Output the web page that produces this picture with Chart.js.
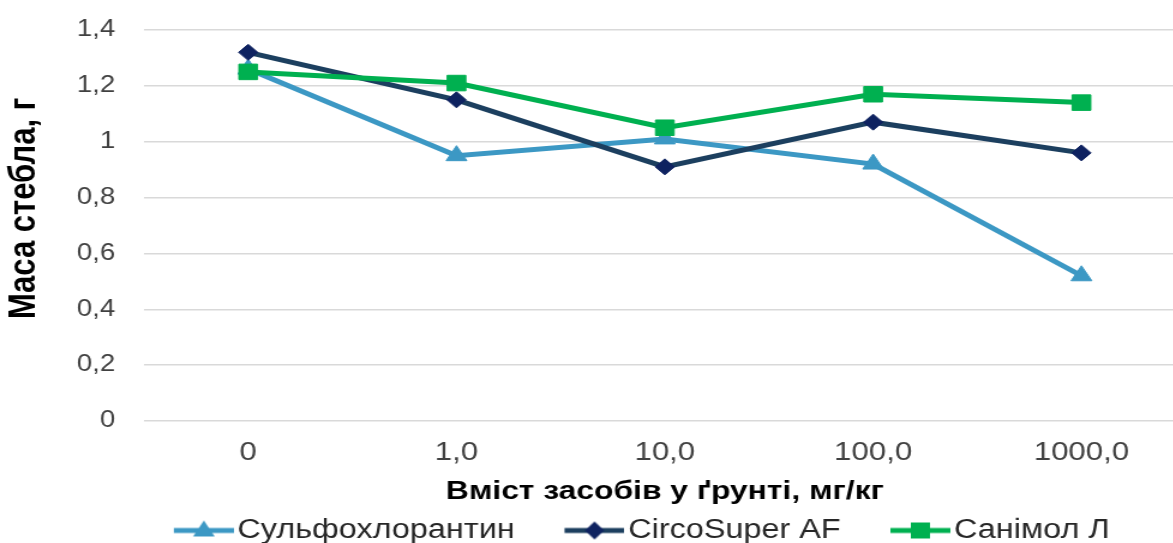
<!DOCTYPE html>
<html>
<head>
<meta charset="utf-8">
<script src="https://cdn.jsdelivr.net/npm/chart.js@4.4.1/dist/chart.umd.min.js"></script>
<style>
    html, body { margin: 0; padding: 0; background: #fff; overflow: hidden; width: 1173px; height: 543px; }
    /* the source picture is stretched sideways, so the canvas is too */
    #chart-mass { transform: scaleX(1.2); transform-origin: 0 0; display: block; }
</style>
</head>
<body>
<canvas id="chart-mass" width="1000" height="543"></canvas>
<script>
// DADOS //
const categories = ['0', '1,0', '10,0', '100,0', '1000,0']
const sulfoValues = [1.26, 0.95, 1.01, 0.92, 0.52]
const circoValues = [1.32, 1.15, 0.91, 1.07, 0.96]
const sanimolValues = [1.25, 1.21, 1.05, 1.17, 1.14]
const yTickLabels = ['0', '0,2', '0,4', '0,6', '0,8', '1', '1,2', '1,4']
const seriesNames = ['Сульфохлорантин', 'CircoSuper AF', 'Санімол Л']
const xTitle = 'Вміст засобів у ґрунті, мг/кг'
const yTitle = 'Маса стебла, г'

const FONT = "'Liberation Sans', Arial, sans-serif"
const LIGHT_BLUE = '#3c98c4'
const NAVY_LINE = '#1c3f5f'
const NAVY_MARK = '#0e2260'
const GREEN = '#00b050'

// legend shift (canvas px), the box is centred on the full width otherwise
const legendShiftX = 18
const legendShiftY = 11

// GLIFO DA LEGENDA: linha + marcador //
function legendGlyph(lineColor, markColor, shape){
    const c = document.createElement('canvas')
    c.width = 100
    c.height = 24
    const g = c.getContext('2d')
    const x0 = 50, x1 = 100, cx = 75, cy = 12
    g.strokeStyle = lineColor
    g.lineWidth = 5
    g.beginPath()
    g.moveTo(x0, cy)
    g.lineTo(x1, cy)
    g.stroke()
    g.fillStyle = markColor
    g.beginPath()
    if(shape === 'triangle'){
        g.moveTo(cx, cy - 10)
        g.lineTo(cx + 9, cy + 6)
        g.lineTo(cx - 9, cy + 6)
    } else if(shape === 'diamond'){
        g.moveTo(cx, cy - 9)
        g.lineTo(cx + 8, cy)
        g.lineTo(cx, cy + 9)
        g.lineTo(cx - 8, cy)
    } else {
        g.rect(cx - 8, cy - 8, 16, 16)
    }
    g.closePath()
    g.fill()
    return c
}

const glyphs = [
    legendGlyph(LIGHT_BLUE, LIGHT_BLUE, 'triangle'),
    legendGlyph(NAVY_LINE, NAVY_MARK, 'diamond'),
    legendGlyph(GREEN, GREEN, 'square')
]

const shiftLegend = {
    id: 'shiftLegend',
    afterLayout(chart){
        const lg = chart.legend
        if(!lg) return
        lg.left += legendShiftX
        lg.right += legendShiftX
        lg.top += legendShiftY
        lg.bottom += legendShiftY
    }
}

const ctx = document.getElementById('chart-mass').getContext('2d')

new Chart(ctx, {
    type: 'line',
    data: {
        labels: categories,
        datasets: [{
            label: seriesNames[0],
            data: sulfoValues,
            borderColor: LIGHT_BLUE,
            backgroundColor: LIGHT_BLUE,
            borderWidth: 5,
            pointStyle: 'triangle',
            pointRadius: 10,
            pointBorderWidth: 1,
            pointBorderColor: LIGHT_BLUE,
            pointBackgroundColor: LIGHT_BLUE,
            tension: 0,
            order: 3
        }, {
            label: seriesNames[1],
            data: circoValues,
            borderColor: NAVY_LINE,
            backgroundColor: NAVY_MARK,
            borderWidth: 5,
            pointStyle: 'rectRot',
            pointRadius: 8,
            pointBorderWidth: 1,
            pointBorderColor: NAVY_MARK,
            pointBackgroundColor: NAVY_MARK,
            tension: 0,
            order: 2
        }, {
            label: seriesNames[2],
            data: sanimolValues,
            borderColor: GREEN,
            backgroundColor: GREEN,
            borderWidth: 5,
            pointStyle: 'rect',
            pointRadius: 11,
            pointBorderWidth: 1,
            pointBorderColor: GREEN,
            pointBackgroundColor: GREEN,
            tension: 0,
            order: 1
        }]
    },
    options: {
        responsive: false,
        animation: false,
        devicePixelRatio: 1,
        layout: {
            padding: { top: 30, right: 6, left: 0, bottom: 0 }
        },
        scales: {
            x: {
                offset: true,
                grid: { display: false, drawTicks: false },
                border: { display: false },
                ticks: {
                    color: '#404040',
                    padding: 16,
                    maxRotation: 0,
                    font: { family: FONT, size: 26 }
                },
                title: {
                    display: true,
                    text: xTitle,
                    color: '#000',
                    padding: { top: 0, bottom: -4 },
                    font: { family: FONT, size: 26.5, weight: 'bold' }
                },
                afterFit: scale => { scale.height = 83 }
            },
            y: {
                min: 0,
                max: 1.4,
                grid: {
                    color: '#d9d9d9',
                    lineWidth: 1.5,
                    drawTicks: true,
                    tickLength: 18,
                    tickColor: 'rgba(0,0,0,0)'
                },
                border: { display: false },
                ticks: {
                    stepSize: 0.2,
                    color: '#404040',
                    padding: 6,
                    font: { family: FONT, size: 23 },
                    callback: (value, index) => yTickLabels[index]
                },
                title: {
                    display: true,
                    text: '    ' + yTitle,
                    color: '#000',
                    padding: { top: 2, bottom: 0 },
                    font: { family: FONT, size: 31, weight: 'bold' }
                },
                afterFit: scale => { scale.width = 120 }
            }
        },
        plugins: {
            legend: {
                position: 'bottom',
                labels: {
                    usePointStyle: true,
                    pointStyleWidth: 79,
                    padding: 2,
                    color: '#262626',
                    font: { family: FONT, size: 27 },
                    sort: (a, b) => a.datasetIndex - b.datasetIndex,
                    generateLabels: chart => {
                        const items = Chart.defaults.plugins.legend.labels.generateLabels(chart)
                        items.forEach(item => { item.pointStyle = glyphs[item.datasetIndex] })
                        return items
                    }
                }
            },
            tooltip: { enabled: false }
        }
    },
    plugins: [shiftLegend]
})
</script>
</body>
</html>
